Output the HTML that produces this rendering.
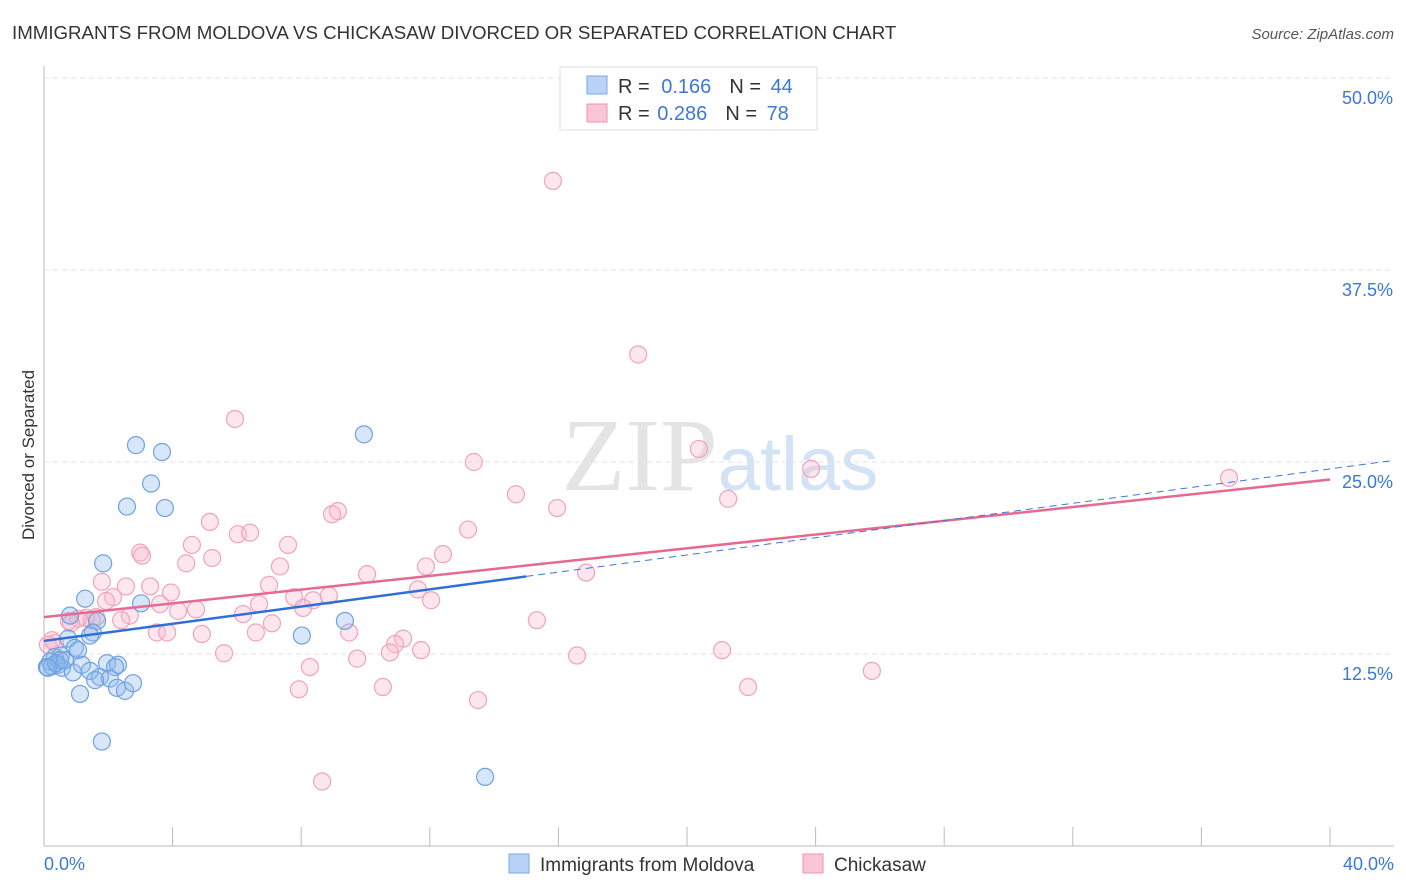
<!DOCTYPE html>
<html><head><meta charset="utf-8"><style>
body{margin:0;background:#fff;font-family:"Liberation Sans",sans-serif;}
svg{display:block}
</style></head><body>
<svg id="chart" width="1406" height="892" xmlns="http://www.w3.org/2000/svg">
<text x="12" y="39" font-size="18.7" fill="#333">IMMIGRANTS FROM MOLDOVA VS CHICKASAW DIVORCED OR SEPARATED CORRELATION CHART</text>
<text x="1394" y="39" font-size="15" fill="#555" font-style="italic" text-anchor="end">Source: ZipAtlas.com</text>
<text x="720" y="490" font-size="104" fill="#e4e4e4" text-anchor="middle" font-family="Liberation Serif,serif">ZIP<tspan fill="#d3e2f4" font-family="Liberation Sans,sans-serif" font-size="76">atlas</tspan></text>
<text transform="translate(34,455) rotate(-90)" font-size="17" fill="#333" text-anchor="middle">Divorced or Separated</text>
<g id="grid"></g>
<g id="axes"></g>
<g id="pts"></g>
<g id="trends"></g>
<g>
<rect x="560" y="67" width="257" height="63" fill="#fff" stroke="#ddd"/>
<rect x="587" y="76" width="20" height="18" fill="#b8d3f5" stroke="#7aaae6"/>
<rect x="587" y="104" width="20" height="18" fill="#f9c6d6" stroke="#ec93b0"/>
<text x="618" y="93" font-size="20" fill="#333">R = <tspan fill="#3b78d8" dx="6">0.166</tspan><tspan fill="#333" dx="18">N = </tspan><tspan fill="#3b78d8" dx="4">44</tspan></text>
<text x="618" y="120" font-size="20" fill="#333">R = <tspan fill="#3b78d8" dx="2">0.286</tspan><tspan fill="#333" dx="18">N = </tspan><tspan fill="#3b78d8" dx="4">78</tspan></text>
</g>
<g>
<rect x="509" y="854" width="20" height="19" fill="#b8d3f5" stroke="#7aaae6"/>
<text x="540" y="871" font-size="19" fill="#333">Immigrants from Moldova</text>
<rect x="803" y="854" width="20" height="19" fill="#f9c6d6" stroke="#ec93b0"/>
<text x="834" y="871" font-size="19" fill="#333">Chickasaw</text>
</g>
</svg>
<script>
const yTicks=[12.5,25.0,37.5,50.0];
const xTickVals=[0,4,8,12,16,20,24,28,32,36,40];
const xLabels=["0.0%","40.0%"];
const moldovaX=[2.86,3.67,9.95,3.33,2.58,3.76,1.84,1.28,3.02,0.81,1.65,8.02,9.36,1.52,1.43,0.75,0.96,1.06,0.53,0.34,0.19,0.09,0.25,0.44,0.56,0.9,1.18,1.43,1.96,2.3,2.21,1.74,2.05,2.27,2.52,2.77,1.12,1.8,13.72,0.5,0.37,0.65,0.12,1.59];
const moldovaY=[26.1,25.65,26.8,23.6,22.1,22.0,18.4,16.1,15.8,15.0,14.65,13.7,14.65,13.9,13.7,13.5,12.9,12.75,12.4,12.3,12.0,11.65,11.7,11.8,11.6,11.3,11.8,11.4,11.9,11.8,11.65,11.0,10.9,10.3,10.1,10.6,9.9,6.8,4.5,12.1,11.9,12.1,11.6,10.8];
const chickX=[15.83,18.48,5.94,20.37,13.37,23.86,36.86,14.68,21.28,15.96,9.14,8.96,5.16,13.19,6.03,6.41,4.6,7.59,12.41,2.99,3.05,5.23,4.42,7.34,11.88,10.05,16.86,1.8,2.55,3.3,7.0,11.63,3.95,2.15,1.93,8.37,8.86,6.69,3.61,7.78,12.04,8.06,4.73,4.17,6.19,2.67,1.31,1.62,1.06,1.49,0.78,2.4,15.33,0.84,7.09,3.51,3.83,4.91,6.59,9.49,11.17,10.92,10.76,0.34,0.12,11.73,5.6,16.58,21.09,9.74,8.27,25.75,10.54,7.93,21.9,13.5,8.65,0.25];
const chickY=[43.3,32.0,27.8,25.85,25.0,24.55,23.96,22.9,22.6,22.0,21.8,21.6,21.1,20.6,20.3,20.4,19.6,19.6,19.0,19.1,18.9,18.75,18.4,18.2,18.2,17.7,17.8,17.2,16.9,16.9,17.0,16.7,16.5,16.2,15.95,16.0,16.3,15.75,15.75,16.2,16.0,15.5,15.4,15.3,15.1,15.0,14.85,14.9,14.8,14.7,14.65,14.7,14.7,14.5,14.5,13.9,13.9,13.8,13.9,13.9,13.5,13.15,12.6,13.2,13.1,12.75,12.55,12.4,12.75,12.2,11.65,11.4,10.35,10.2,10.35,9.5,4.2,13.4];
const moldovaTrend=[13.35,0.28];   // intercept, slope
const chickTrend=[14.9,0.224];
const moldovaSolidEnd=15.0;

const NS="http://www.w3.org/2000/svg";
const X0=44,X1=1330,Y0=846,YT=78;
const sx=v=>X0+(X1-X0)*v/40;
const sy=v=>Y0-(Y0-YT)*v/50;
function mk(tag,attrs,parent){const e=document.createElementNS(NS,tag);for(const k in attrs)e.setAttribute(k,attrs[k]);parent.appendChild(e);return e;}
const grid=document.getElementById('grid'),axes=document.getElementById('axes');
yTicks.forEach(t=>{
  const l=mk('line',{x1:X0,x2:1394,y1:sy(t),y2:sy(t),stroke:'#e2e2e2','stroke-dasharray':'5,4'},grid);
  
  
  const tx=mk('text',{x:1393,y:sy(t)+26,'font-size':18,fill:'#3b78d8','text-anchor':'end'},grid);
  tx.textContent=t.toFixed(1)+'%';
  
  
});
const xa=mk('line',{x1:X0,x2:1394,y1:Y0,y2:Y0,stroke:'#bbb'},axes);


const ya=mk('line',{x1:X0,x2:X0,y1:66,y2:Y0,stroke:'#bbb'},axes);


xTickVals.forEach(v=>{
  const t=mk('line',{x1:sx(v),x2:sx(v),y1:827,y2:Y0,stroke:'#bbb'},axes);
  
  
});
const l0=mk('text',{x:44,y:870,'font-size':18,fill:'#3b78d8'},axes);l0.textContent=xLabels[0];


const l1=mk('text',{x:1394,y:870,'font-size':18,fill:'#3b78d8','text-anchor':'end'},axes);l1.textContent=xLabels[1];


const pts=document.getElementById('pts');
chickX.forEach((x,i)=>{
  const c=mk('circle',{cx:sx(x),cy:sy(chickY[i]),r:8.5,fill:'rgba(248,182,204,0.35)',stroke:'#f0a3bc','stroke-width':1.2},pts);
  
  
});
moldovaX.forEach((x,i)=>{
  const c=mk('circle',{cx:sx(x),cy:sy(moldovaY[i]),r:8.5,fill:'rgba(140,182,235,0.35)',stroke:'#6fa2e0','stroke-width':1.2},pts);
  
  
});
const tr=document.getElementById('trends');
const f=(t,x)=>t[0]+t[1]*x;
const p=mk('line',{x1:sx(0),y1:sy(f(chickTrend,0)),x2:sx(40),y2:sy(f(chickTrend,40)),stroke:'#e8698f','stroke-width':2.5},tr);


const bd=mk('line',{x1:sx(moldovaSolidEnd),y1:sy(f(moldovaTrend,moldovaSolidEnd)),x2:sx(42),y2:sy(f(moldovaTrend,42)),stroke:'#3b78d8','stroke-width':1,'stroke-dasharray':'7,5'},tr);


const b=mk('line',{x1:sx(0),y1:sy(f(moldovaTrend,0)),x2:sx(moldovaSolidEnd),y2:sy(f(moldovaTrend,moldovaSolidEnd)),stroke:'#2f6fd6','stroke-width':2.5},tr);


</script>
</body></html>
